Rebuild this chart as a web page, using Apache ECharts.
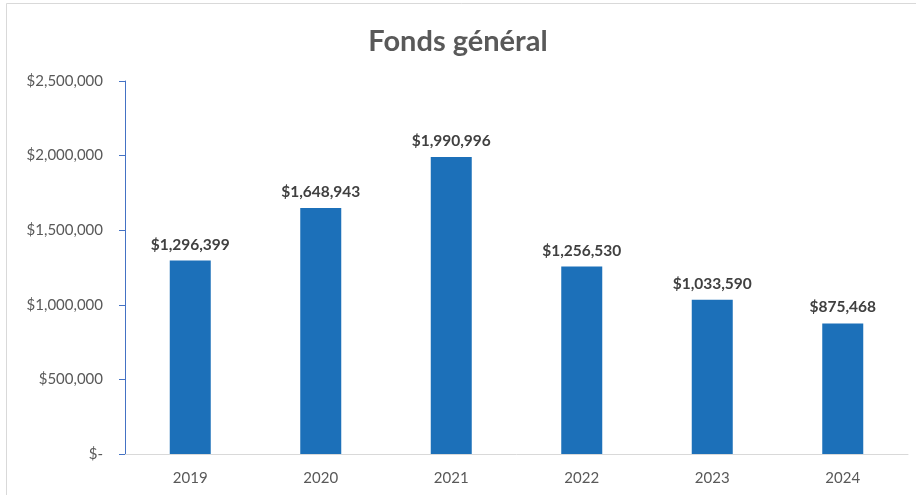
<!DOCTYPE html>
<html>
<head>
<meta charset="utf-8">
<script src="https://cdn.jsdelivr.net/npm/echarts@6/dist/echarts.min.js"></script>
<style>
html,body{margin:0;padding:0;background:#fff;}
#chart{width:916px;height:495px;}
</style>
</head>
<body>
<div id="chart"></div>
<script>
var titleText = 'Fonds général';
var categories = ['2019', '2020', '2021', '2022', '2023', '2024'];
var values = [1296399, 1648943, 1990996, 1256530, 1033590, 875468];
var yMin = 0, yMax = 2500000, yInterval = 500000;

function money(v) {
  if (v === 0) return '$-';
  return '$' + Math.round(v).toString().replace(/\B(?=(\d{3})+(?!\d))/g, ',');
}

var chart = echarts.init(document.getElementById('chart'));
chart.setOption({
  backgroundColor: '#ffffff',
  animation: false,
  graphic: [{
    type: 'rect',
    shape: { x: 6.5, y: 3.5, width: 1000, height: 1000 },
    style: { fill: 'none', stroke: '#d9d9d9', lineWidth: 1 },
    silent: true
  }],
  title: {
    text: titleText,
    left: 'center',
    top: 22,
    textStyle: { fontFamily: 'Lato', fontWeight: 'bold', fontSize: 29, color: '#595959' }
  },
  grid: { left: 125, right: 8, top: 81, bottom: 41, containLabel: false },
  xAxis: {
    type: 'category',
    data: categories,
    axisLine: { lineStyle: { color: '#d9d9d9', width: 1 } },
    axisTick: { show: false },
    axisLabel: { fontFamily: 'Lato', fontSize: 15, color: '#595959', margin: 17 }
  },
  yAxis: {
    type: 'value',
    min: yMin, max: yMax, interval: yInterval,
    axisLine: { show: true, lineStyle: { color: '#4472c4', width: 1 } },
    axisTick: { show: true, length: 6, lineStyle: { color: '#4472c4' } },
    splitLine: { show: false },
    axisLabel: { fontFamily: 'Lato', fontSize: 15, color: '#595959', margin: 22, formatter: money }
  },
  series: [{
    type: 'bar',
    data: values,
    barWidth: 41,
    itemStyle: { color: '#1c70b9' },
    label: {
      show: true,
      position: 'top',
      distance: 8,
      fontFamily: 'Lato',
      fontWeight: 'bold',
      fontSize: 15.5,
      color: '#404040',
      formatter: function (p) { return money(p.value); }
    }
  }]
});
</script>
</body>
</html>
